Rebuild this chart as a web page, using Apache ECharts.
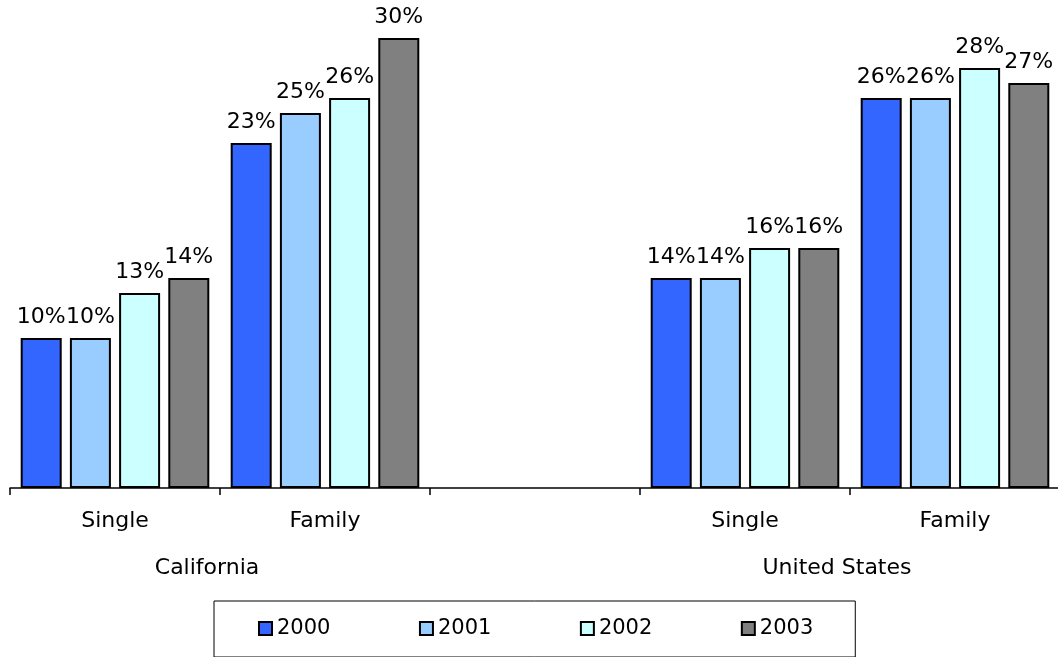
<!DOCTYPE html>
<html>
<head>
<meta charset="utf-8">
<script src="https://cdn.jsdelivr.net/npm/echarts@6/dist/echarts.min.js"></script>
<style>
  html, body { margin: 0; padding: 0; background: #fff; }
  #chart { width: 1058px; height: 657px; }
</style>
</head>
<body>
<div id="chart"></div>
<script>
// Coverage categories per region; the blank slot separates the two regions
const categories = ['Single', 'Family', '', 'Single', 'Family'];
// Region labels sit under the boundary between each region's two categories
const regionSlots = ['', '', 'California', '', '', '', '', '', 'United States', '', ''];
const years = ['2000', '2001', '2002', '2003'];
// Percent values per year, in category order
const v2000 = [10, 23, null, 14, 26];
const v2001 = [10, 25, null, 14, 26];
const v2002 = [13, 26, null, 16, 28];
const v2003 = [14, 30, null, 16, 27];
const colors = ['#3366FF', '#99CCFF', '#CCFFFF', '#808080'];

const FONT = 'DejaVu Sans';
const seriesValues = [v2000, v2001, v2002, v2003];

const chart = echarts.init(document.getElementById('chart'), null, { renderer: 'canvas' });

chart.setOption({
  animation: false,
  textStyle: { fontFamily: FONT },
  grid: {
    left: 10, top: 8, width: 1050, height: 480,
    containLabel: false, outerBoundsMode: 'none'
  },
  xAxis: [
    {
      type: 'category',
      data: categories,
      axisLine: { lineStyle: { color: '#000', width: 1.5 } },
      axisTick: { show: true, length: 7, lineStyle: { color: '#000', width: 1.5 } },
      axisLabel: { color: '#000', fontSize: 22, fontFamily: FONT, margin: 22 }
    },
    {
      type: 'category',
      position: 'bottom',
      boundaryGap: false,
      data: regionSlots,
      axisLine: { show: false },
      axisTick: { show: false },
      axisLabel: {
        color: '#000', fontSize: 22, fontFamily: FONT, margin: 69,
        interval: 0, padding: [0, 26, 0, 0]
      }
    }
  ],
  yAxis: {
    type: 'value',
    min: 0,
    max: 32,
    show: false,
    splitLine: { show: false }
  },
  legend: {
    bottom: 0,
    left: 214,
    data: years,
    itemWidth: 13,
    itemHeight: 13,
    itemGap: 88.5,
    borderColor: '#000',
    borderWidth: 1,
    padding: [17, 42, 18, 44],
    textStyle: { color: '#000', fontSize: 21, fontFamily: FONT },
    icon: 'rect'
  },
  series: years.map((y, i) => ({
    name: y,
    type: 'bar',
    xAxisIndex: 0,
    data: seriesValues[i],
    barWidth: 41,
    barGap: '20%',
    itemStyle: { color: colors[i], borderColor: '#000', borderWidth: 2 },
    label: {
      show: true,
      position: 'top',
      distance: 10,
      color: '#000',
      fontSize: 22,
      fontFamily: FONT,
      formatter: p => p.value + '%'
    }
  }))
});
</script>
</body>
</html>
